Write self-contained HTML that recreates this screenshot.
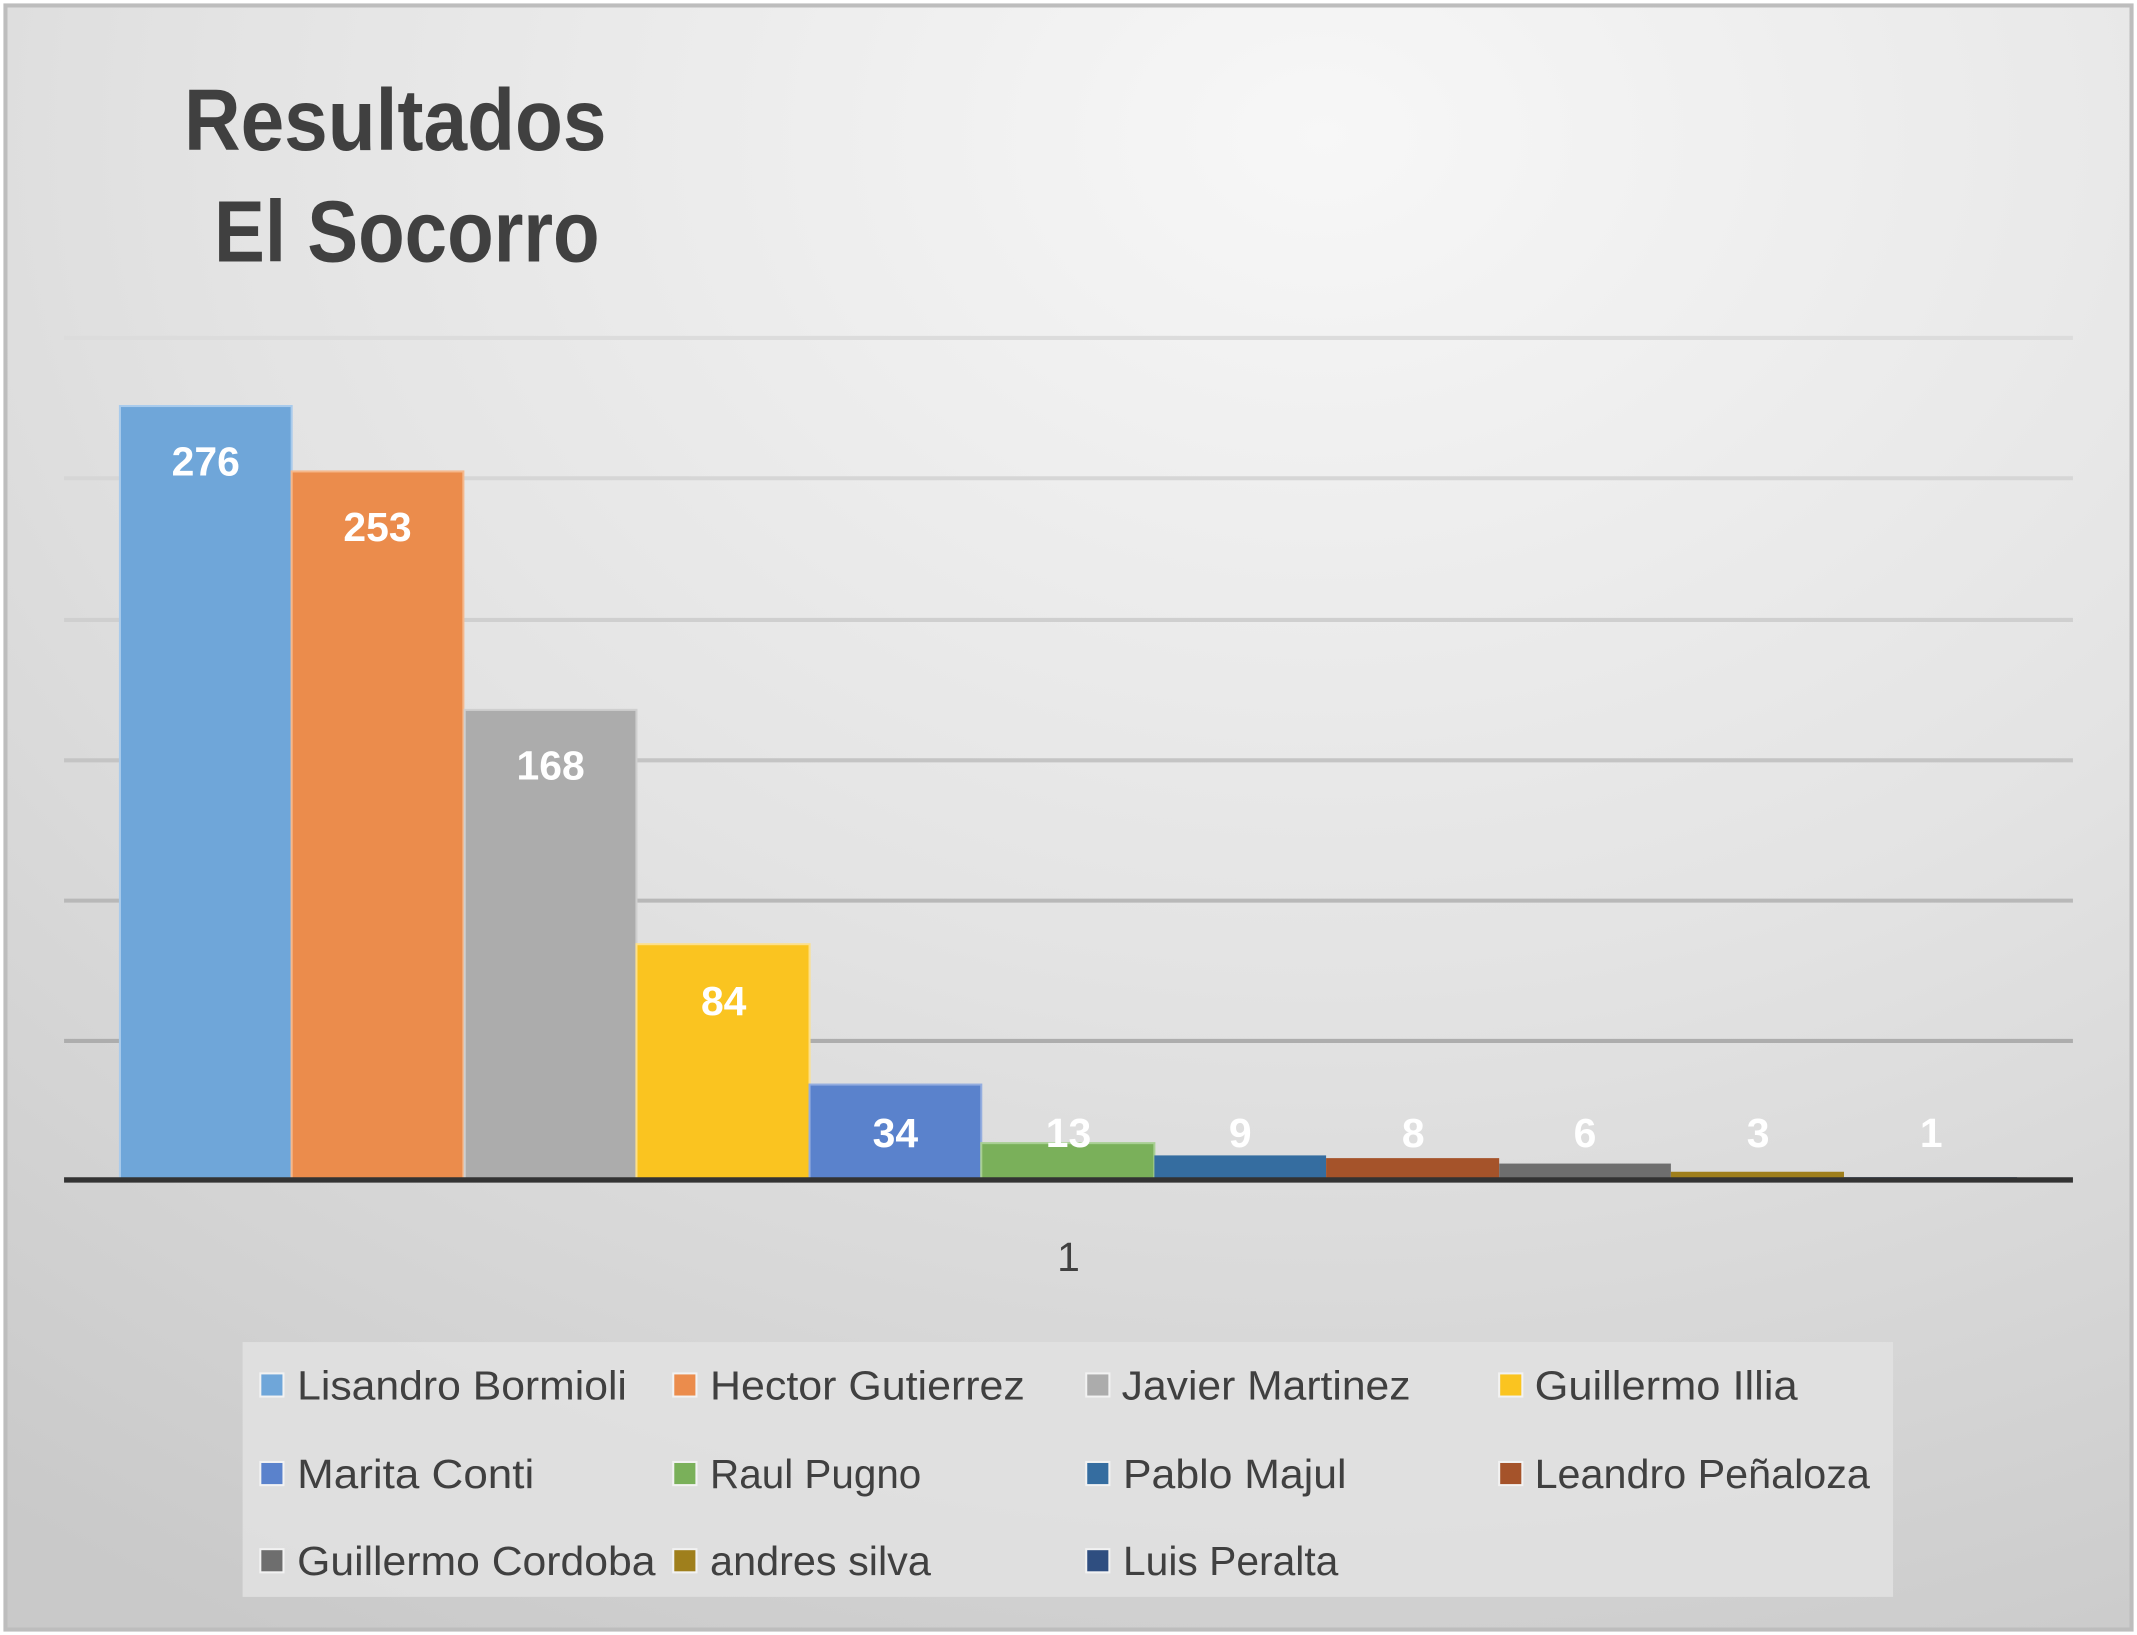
<!DOCTYPE html>
<html><head><meta charset="utf-8"><style>
html,body{margin:0;padding:0;background:#fff;}
svg{display:block;}
text{font-family:"Liberation Sans",sans-serif;}
</style></head><body>
<svg width="2137" height="1635" viewBox="0 0 1568 1200" preserveAspectRatio="none" xmlns="http://www.w3.org/2000/svg">
<defs>
<radialGradient id="bg" cx="0.62" cy="0.08" r="1.05">
<stop offset="0" stop-color="#f7f7f7"/>
<stop offset="0.5" stop-color="#e3e3e3"/>
<stop offset="1" stop-color="#c9c9c9"/>
</radialGradient>
</defs>
<rect x="0" y="0" width="1568" height="1200" fill="#fff"/>
<rect x="4" y="4" width="1560" height="1192" fill="url(#bg)" stroke="#bdbdbd" stroke-width="3"/>
<text x="135" y="110" font-size="64" font-weight="bold" fill="#404040" textLength="310" lengthAdjust="spacingAndGlyphs">Resultados</text>
<text x="157" y="192" font-size="64" font-weight="bold" fill="#404040" textLength="283" lengthAdjust="spacingAndGlyphs">El Socorro</text>
<g stroke-width="3">
<line x1="47" x2="1521" y1="248" y2="248" stroke="#dcdcdc"/>
<line x1="47" x2="1521" y1="351" y2="351" stroke="#d6d6d6"/>
<line x1="47" x2="1521" y1="455" y2="455" stroke="#cfcfcf"/>
<line x1="47" x2="1521" y1="558" y2="558" stroke="#c4c4c4"/>
<line x1="47" x2="1521" y1="661" y2="661" stroke="#b8b8b8"/>
<line x1="47" x2="1521" y1="764" y2="764" stroke="#adadad"/>
</g>
<g stroke-width="1.5">
<rect x="88" y="298" width="126" height="568" fill="#6fa6d9" stroke="#a9cbec"/>
<rect x="214" y="346" width="126" height="520" fill="#eb8c4c" stroke="#f5b88c"/>
<rect x="341" y="521" width="126" height="345" fill="#acacac" stroke="#cfcfcf"/>
<rect x="467" y="693" width="127" height="173" fill="#fac420" stroke="#fde08a"/>
<rect x="594" y="796" width="126" height="70" fill="#5a82cc" stroke="#94addf"/>
<rect x="720" y="839" width="127" height="27" fill="#7ab05a" stroke="#a8cf93"/>
<rect x="847" y="848" width="126" height="18" fill="#356da0"/>
<rect x="973" y="850" width="127" height="16" fill="#a5532a"/>
<rect x="1100" y="854" width="126" height="12" fill="#6e6e6e"/>
<rect x="1226" y="860" width="127" height="6" fill="#9f7f1c"/>
<rect x="1353" y="864" width="127" height="2" fill="#2f4e80"/>
</g>
<line x1="47" x2="1521" y1="866" y2="866" stroke="#333" stroke-width="4"/>
<g font-size="30" font-weight="bold" fill="#fff" text-anchor="middle">
<text x="151" y="349">276</text>
<text x="277" y="397">253</text>
<text x="404" y="572">168</text>
<text x="531" y="745">84</text>
<text x="657" y="842">34</text>
<text x="784" y="842">13</text>
<text x="910" y="842">9</text>
<text x="1037" y="842">8</text>
<text x="1163" y="842">6</text>
<text x="1290" y="842">3</text>
<text x="1417" y="842">1</text>
</g>
<text x="784" y="933" font-size="30" fill="#404040" text-anchor="middle">1</text>
<rect x="178" y="985" width="1211" height="187" fill="#e2e2e2" opacity="0.85"/>
<g stroke="#f2f2f2" stroke-width="1.5">
<rect x="191" y="1008" width="17" height="17" fill="#6fa6d9"/>
<rect x="494" y="1008" width="17" height="17" fill="#eb8c4c"/>
<rect x="797" y="1008" width="17" height="17" fill="#acacac"/>
<rect x="1100" y="1008" width="17" height="17" fill="#fac420"/>
<rect x="191" y="1073" width="17" height="17" fill="#5a82cc"/>
<rect x="494" y="1073" width="17" height="17" fill="#7ab05a"/>
<rect x="797" y="1073" width="17" height="17" fill="#356da0"/>
<rect x="1100" y="1073" width="17" height="17" fill="#a5532a"/>
<rect x="191" y="1137" width="17" height="17" fill="#6e6e6e"/>
<rect x="494" y="1137" width="17" height="17" fill="#9f7f1c"/>
<rect x="797" y="1137" width="17" height="17" fill="#2f4e80"/>
</g>
<g font-size="30" fill="#404040">
<text x="218" y="1027" textLength="242" lengthAdjust="spacingAndGlyphs">Lisandro Bormioli</text>
<text x="521" y="1027" textLength="231" lengthAdjust="spacingAndGlyphs">Hector Gutierrez</text>
<text x="823" y="1027" textLength="212" lengthAdjust="spacingAndGlyphs">Javier Martinez</text>
<text x="1126" y="1027" textLength="193" lengthAdjust="spacingAndGlyphs">Guillermo Illia</text>
<text x="218" y="1092" textLength="174" lengthAdjust="spacingAndGlyphs">Marita Conti</text>
<text x="521" y="1092" textLength="155" lengthAdjust="spacingAndGlyphs">Raul Pugno</text>
<text x="824" y="1092" textLength="164" lengthAdjust="spacingAndGlyphs">Pablo Majul</text>
<text x="1126" y="1092" textLength="246" lengthAdjust="spacingAndGlyphs">Leandro Peñaloza</text>
<text x="218" y="1156" textLength="263" lengthAdjust="spacingAndGlyphs">Guillermo Cordoba</text>
<text x="521" y="1156" textLength="162" lengthAdjust="spacingAndGlyphs">andres silva</text>
<text x="824" y="1156" textLength="158" lengthAdjust="spacingAndGlyphs">Luis Peralta</text>
</g>
</svg>
</body></html>
